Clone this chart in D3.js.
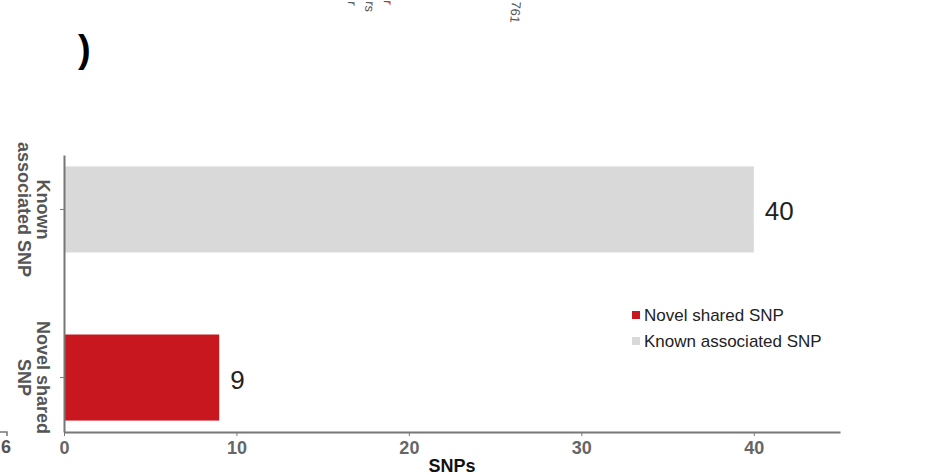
<!DOCTYPE html>
<html>
<head>
<meta charset="utf-8">
<script src="https://cdn.jsdelivr.net/npm/d3@7"></script>
<style>
  body { margin: 0; background: #fff; }
  svg { font-family: Arial, "Liberation Sans", sans-serif; }
</style>
</head>
<body>
<svg id="canvas" width="940" height="475"></svg>
<script>
// chart data
let categories = ['Known associated SNP', 'Novel shared SNP']
let axisLabels = [['Known', 'associated SNP'], ['Novel shared', 'SNP']]
let snpCounts = [40, 9]
let barColors = ['#d9d9d9', '#c8171e']
let legendNames = ['Novel shared SNP', 'Known associated SNP']
let legendColors = ['#c8171e', '#d9d9d9']
let xTicks = [0, 10, 20, 30, 40]

let canvas = d3.select('#canvas')

let plotLeft = 64
let plotRight = 840
let plotTop = 155
let plotBottom = 432

let xScale = d3.scaleLinear()
               .domain([0, 45])
               .range([plotLeft, plotRight])

let yScale = d3.scaleBand()
               .domain(categories)
               .range([plotTop, plotBottom])
               .paddingInner(0.488)
               .paddingOuter(0.068)

// bars
canvas.selectAll('.bar')
      .data(categories)
      .enter()
      .append('rect')
      .attr('class', 'bar')
      .attr('x', xScale(0))
      .attr('y', (c) => yScale(c))
      .attr('width', (c, i) => xScale(snpCounts[i]) - xScale(0))
      .attr('height', yScale.bandwidth())
      .attr('fill', (c, i) => barColors[i])

// value labels
canvas.selectAll('.value')
      .data(categories)
      .enter()
      .append('text')
      .attr('class', 'value')
      .attr('x', (c, i) => xScale(snpCounts[i]) + 11)
      .attr('y', (c) => yScale(c) + yScale.bandwidth() / 2 + 11)
      .attr('font-size', 26)
      .attr('fill', '#222')
      .text((c, i) => snpCounts[i])

// x axis
let xAxis = d3.axisBottom(xScale)
              .tickValues(xTicks)
              .tickSize(4)
              .tickSizeOuter(0)

let gx = canvas.append('g')
               .attr('transform', 'translate(0,' + plotBottom + ')')
               .call(xAxis)
gx.select('.domain').attr('stroke', '#777').attr('stroke-width', 2)
gx.selectAll('.tick line').attr('stroke', '#777')
gx.selectAll('.tick text')
  .attr('font-size', 18)
  .attr('font-weight', 'bold')
  .attr('fill', '#666')
  .attr('font-family', 'Arial, "Liberation Sans", sans-serif')
  .attr('dy', '0.85em')

// y axis
let yAxis = d3.axisLeft(yScale)
              .tickSize(4)
              .tickSizeOuter(0)
              .tickFormat('')

let gy = canvas.append('g')
               .attr('transform', 'translate(' + plotLeft + ',0)')
               .call(yAxis)
gy.select('.domain').attr('stroke', '#777').attr('stroke-width', 2)
gy.selectAll('.tick line').attr('stroke', '#777')

// rotated category labels
categories.forEach((c, i) => {
    let cy = yScale(c) + yScale.bandwidth() / 2
    let label = canvas.append('text')
                      .attr('transform', 'translate(37,' + cy + ') rotate(90)')
                      .attr('text-anchor', 'middle')
                      .attr('font-size', 18)
                      .attr('font-weight', 'bold')
                      .attr('fill', '#555')
    axisLabels[i].forEach((line, j) => {
        label.append('tspan')
             .attr('x', 0)
             .attr('y', j === 0 ? 0 : 19)
             .text(line)
    })
})

// x axis title
canvas.append('text')
      .attr('x', (xScale(20) + xScale(25)) / 2)
      .attr('y', 472)
      .attr('text-anchor', 'middle')
      .attr('font-size', 18)
      .attr('font-weight', 'bold')
      .attr('fill', '#111')
      .text('SNPs')

// legend
let legend = canvas.selectAll('.legend')
                   .data(legendNames)
                   .enter()
                   .append('g')
                   .attr('class', 'legend')
                   .attr('transform', (d, i) => 'translate(632,' + (311 + i * 26) + ')')

legend.append('rect')
      .attr('width', 8)
      .attr('height', 8)
      .attr('fill', (d, i) => legendColors[i])

legend.append('text')
      .attr('x', 12)
      .attr('y', 10)
      .attr('font-size', 17)
      .attr('fill', '#222')
      .text((d) => d)

// fragments of neighbouring panels
canvas.append('text')
      .attr('x', 1)
      .attr('y', 453)
      .attr('font-size', 18)
      .attr('font-weight', 'bold')
      .attr('fill', '#555')
      .text('6')
canvas.append('path')
      .attr('d', 'M0,432 L7,432 L7,436')
      .attr('fill', 'none')
      .attr('stroke', '#777')
      .attr('stroke-width', 1.5)
canvas.append('text')
      .attr('x', 78)
      .attr('y', 62)
      .attr('font-size', 38)
      .attr('font-weight', 'bold')
      .attr('fill', '#000')
      .text(')')

let topBits = [['r', 348, 1, '#555'], ['rs', 366, 1, '#555'], ['r', 384, 0, '#c8171e'], ['761', 512, 1, '#555']]
topBits.forEach((b) => {
    canvas.append('text')
          .attr('transform', 'translate(' + b[1] + ',' + b[2] + ') rotate(95)')
          .attr('font-size', 13)
          .attr('fill', b[3])
          .text(b[0])
})
</script>
</body>
</html>
